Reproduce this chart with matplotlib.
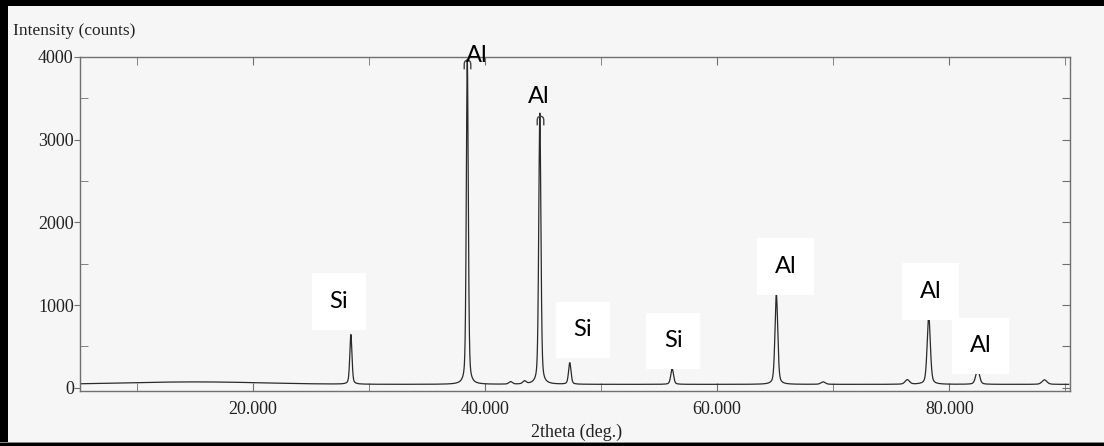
import numpy as np
import matplotlib
matplotlib.use("Agg")
import matplotlib.pyplot as plt
from matplotlib.patches import Rectangle
from matplotlib.ticker import MultipleLocator, FixedLocator

# peaks: 2theta (deg), height above background (counts), FWHM (deg)
peak_pos = [28.44, 38.47, 42.2, 43.4, 44.72, 47.30, 56.12, 65.10, 69.13, 76.38, 78.23, 82.44, 88.2]
peak_height = [600, 3930, 30, 35, 3280, 260, 190, 1090, 30, 55, 830, 180, 55]
peak_fwhm = [0.22, 0.20, 0.35, 0.35, 0.22, 0.25, 0.28, 0.28, 0.45, 0.45, 0.32, 0.38, 0.5]

# background: flat level plus the broad amorphous hump at low angle
bg_level = 40
hump_pos, hump_height, hump_width = 15.0, 30, 14.0

# phase labels (the two top ones sit on plain paper, no pasted box)
labels = ["Al", "Al", "Si", "Si", "Si", "Al", "Al", "Al"]
label_x = [39.3, 44.6, 27.4, 48.4, 56.2, 65.9, 78.4, 82.7]
label_y = [4020, 3520, 1045, 700, 565, 1465, 1165, 505]
label_boxed = [False, False, True, True, True, True, True, True]

# peak-search marks left by the instrument software
mark_x = [38.47, 44.72]
mark_y = [3920, 3240]

x_ticks = [20, 40, 60, 80]
x_tick_labels = ["20.000", "40.000", "60.000", "80.000"]
y_ticks = [0, 1000, 2000, 3000, 4000]

serif = "Liberation Serif"
bg = "#f6f6f6"


def pattern(tt):
    y = np.full_like(tt, bg_level, dtype=float)
    y += hump_height * np.exp(-0.5 * ((tt - hump_pos) / (hump_width / 2.355)) ** 2)
    for p, h, w in zip(peak_pos, peak_height, peak_fwhm):
        g = np.exp(-4 * np.log(2) * ((tt - p) / w) ** 2)
        lz = 1 / (1 + 4 * ((tt - p) / w) ** 2)
        y += h * (0.6 * g + 0.4 * lz)
    return y


tt = np.arange(5.0, 90.3, 0.01)
counts = pattern(tt)

fig = plt.figure(figsize=(11.04, 4.46), dpi=100, facecolor=bg)
ax = fig.add_axes([80 / 1104, 1 - 391 / 446, (1070 - 80) / 1104, (391 - 57) / 446])
ax.set_facecolor(bg)

ax.plot(tt, counts, color="#2a2a2a", lw=0.9)
ax.plot(mark_x, mark_y, ls="none", marker="$\\cap$", ms=7, color="#444",
        mew=0, clip_on=False, zorder=3)

ax.set_xlim(5.1, 90.4)
ax.set_ylim(-40, 4000)

for s in ax.spines.values():
    s.set_color("#707070")
    s.set_linewidth(1.0)

ax.xaxis.set_major_locator(FixedLocator(x_ticks))
ax.set_xticklabels(x_tick_labels, fontfamily=serif, fontsize=13, color="#222")
ax.xaxis.set_minor_locator(FixedLocator([10, 30, 50, 70, 90]))
ax.tick_params(axis="x", which="both", direction="in", top=True, length=6,
               color="#707070", pad=7)

ax.yaxis.set_major_locator(FixedLocator(y_ticks))
ax.set_yticklabels([str(v) for v in y_ticks], fontfamily=serif, fontsize=13, color="#222")
ax.yaxis.set_minor_locator(MultipleLocator(500))
ax.tick_params(axis="y", which="major", direction="out", length=4, color="#707070", pad=0.5)
ax.tick_params(axis="y", which="minor", direction="in", length=6, color="#707070")

right = ax.secondary_yaxis("right")
right.yaxis.set_major_locator(MultipleLocator(500))
right.tick_params(direction="in", length=6, color="#707070", labelright=False)
right.spines["right"].set_visible(False)

for t, lx, ly, boxed in zip(labels, label_x, label_y, label_boxed):
    box = dict(boxstyle="square,pad=0.75", fc="white", ec="none") if boxed else None
    ax.text(lx, ly, t, fontfamily="Lato", fontsize=17, ha="center", va="center",
            color="black", clip_on=False, zorder=5, bbox=box)

fig.text(13 / 1104, 1 - 31 / 446, "Intensity (counts)", fontfamily=serif,
         fontsize=12.5, ha="left", va="center", color="#222")
fig.text(577 / 1104, 1 - 432 / 446, "2theta (deg.)", fontfamily=serif,
         fontsize=13, ha="center", va="center", color="#222")

# scan border
fig.patches.append(Rectangle((0, 0), 8 / 1104, 1, transform=fig.transFigure, fc="black", ec="none"))
fig.patches.append(Rectangle((0, 1 - 6 / 446), 1, 6 / 446, transform=fig.transFigure, fc="black", ec="none"))
fig.patches.append(Rectangle((0, 0), 1, 3 / 446, transform=fig.transFigure, fc="black", ec="none"))
fig.patches.append(Rectangle((0, 3 / 446), 1, 1.5 / 446, transform=fig.transFigure, fc="#888888", ec="none"))

fig.savefig("out.png", dpi=100, facecolor=bg)
